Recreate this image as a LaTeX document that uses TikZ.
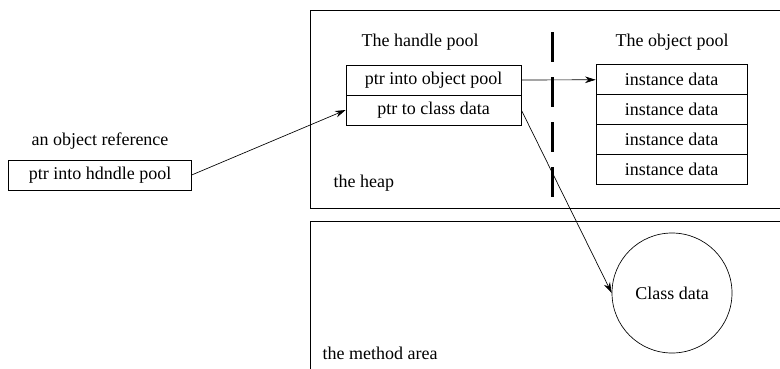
\documentclass[tikz,border=0pt]{standalone}
\usepackage{fontspec}
\setmainfont{Liberation Serif}
\usetikzlibrary{arrows.meta}

\begin{document}
\begin{tikzpicture}[x=0.75pt,y=-0.75pt,>={Stealth[length=8pt,width=5pt]},
    every node/.style={font=\fontsize{13.5}{16}\selectfont},
    cell/.style={draw,line width=0.5pt,minimum height=22.5pt,inner sep=0pt},
    handle/.style={cell,minimum width=131.25pt},
    inst/.style={cell,minimum width=113.25pt}]
            \useasboundingbox (0,0) rectangle (780,368);

            % Areas
            \draw[line width=0.5pt] (310,10) rectangle (790,208);
            \draw[line width=0.5pt] (310,221) rectangle (790,380);
            \node[anchor=west] (heap) at (329,183) {the heap};
            \node[anchor=west] (method) at (318,353) {the method area};

            % The reference
            \node (reflbl) at (100,141) {an object reference};
            \node[cell,minimum width=137pt] (ref) at (100,175) {ptr into hdndle pool};

            % Handle pool
            \node (hlbl) at (420,42) {The handle pool};
            \node[handle] (optr) at (433.5,80) {ptr into object pool};
            \node[handle] (cptr) at (433.5,110) {ptr to class data};

            % Object pool
            \node (olbl) at (672,42) {The object pool};
            \foreach \i in {1,...,4}{
            \node[inst] (inst\i) at (671.5,50+29.75*\i) {instance data};
            }

            \draw[line width=2.25pt,dash pattern=on 22.5pt off 11.25pt] (552,32) -- (552,199);

            % Class data
            \node[draw,circle,line width=0.5pt,minimum size=90pt] (cls) at (672,293) {Class data};

            \draw[->,line width=0.5pt] (ref.east) -- (cptr.west);
            \draw[->,line width=0.5pt] (optr.east) -- (inst1.west);
            \draw[->,line width=0.5pt] (cptr.east) -- (cls.west);
        \end{tikzpicture}
\end{document}
